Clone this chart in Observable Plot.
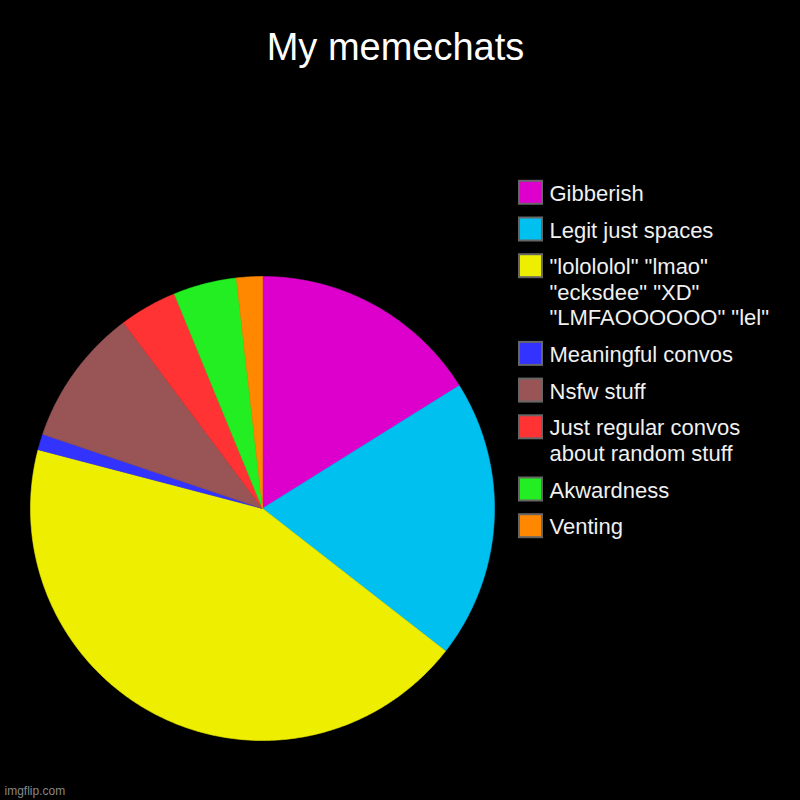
<!DOCTYPE html>
<html><head><meta charset="utf-8">
<script src="https://cdn.jsdelivr.net/npm/d3@7"></script>
<script src="https://cdn.jsdelivr.net/npm/@observablehq/plot@0.6"></script>
<style>html,body{margin:0;padding:0;background:#000;overflow:hidden;}</style>
</head><body><div id="chart"></div>
<script>
// ---- data ----
const categories = ["Gibberish", "Legit just spaces", "lolololol", "Meaningful convos", "Nsfw stuff", "Just regular convos", "Akwardness", "Venting"];
const values = [16.1, 19.4, 43.5, 1.1, 9.6, 4.0, 4.4, 1.8];
const colors = ["#dd00cc", "#00c0f0", "#eeee00", "#3333ff", "#995555", "#ff3333", "#22ee22", "#ff8800"];
const legendLabels = [
  "Gibberish",
  "Legit just spaces",
  "\"lolololol\" \"lmao\"\n\"ecksdee\" \"XD\"\n\"LMFAOOOOOO\" \"lel\"",
  "Meaningful convos",
  "Nsfw stuff",
  "Just regular convos\nabout random stuff",
  "Akwardness",
  "Venting"
];
const title = "My memechats";
const footer = "imgflip.com";

// ---- geometry (pixel-like data space) ----
const cx = 262, cy = 508, r = 232;
const arcs = d3.pie().sort(null).value(d => d)(values);
const slicePts = [];
arcs.forEach((a, i) => {
  const cat = categories[i];
  const n = Math.max(2, Math.ceil((a.endAngle - a.startAngle) / (Math.PI / 360)));
  slicePts.push({cat, x: cx, y: cy});
  for (let k = 0; k <= n; k++) {
    const t = a.startAngle + (a.endAngle - a.startAngle) * k / n;
    slicePts.push({cat, x: cx + r * Math.sin(t), y: cy - r * Math.cos(t)});
  }
  slicePts.push({cat, x: cx, y: cy});
});

const lineH = 25.5, rowGap = 11.2;
let yy = 192.3;
const legendRows = categories.map((cat, i) => {
  const label = legendLabels[i];
  const nLines = label.split("\n").length;
  const row = {cat, label, y: yy, ty: yy + (nLines - 1) * lineH / 2};
  yy += nLines * lineH + rowGap;
  return row;
});

const chart = Plot.plot({
  width: 800, height: 800, margin: 0,
  x: {domain: [0, 800], range: [0, 800], axis: null},
  y: {domain: [0, 800], range: [0, 800], axis: null},
  color: {domain: categories, range: colors},
  style: {background: "#000", fontFamily: "'Liberation Sans', Arial, sans-serif"},
  marks: [
    Plot.line(slicePts, {x: "x", y: "y", z: "cat", fill: "cat", stroke: "cat", strokeWidth: 0.6, curve: "linear"}),
    Plot.rect(legendRows, {x1: () => 519, x2: () => 542, y1: d => d.y - 11.5, y2: d => d.y + 11.5, fill: "cat", stroke: "#666", strokeWidth: 2}),
    Plot.text(legendRows, {x: () => 549, y: "ty", text: "label", textAnchor: "start", fill: "#f0f0f0", fontSize: 22, lineHeight: lineH / 22}),
    Plot.text([title], {x: () => 395, y: () => 47, text: d => d, fill: "#fff", fontSize: 38}),
    Plot.text([footer], {x: () => 4, y: () => 791, text: d => d, textAnchor: "start", fill: "#888", fontSize: 12})
  ]
});
document.getElementById("chart").appendChild(chart);
</script>
</body></html>
